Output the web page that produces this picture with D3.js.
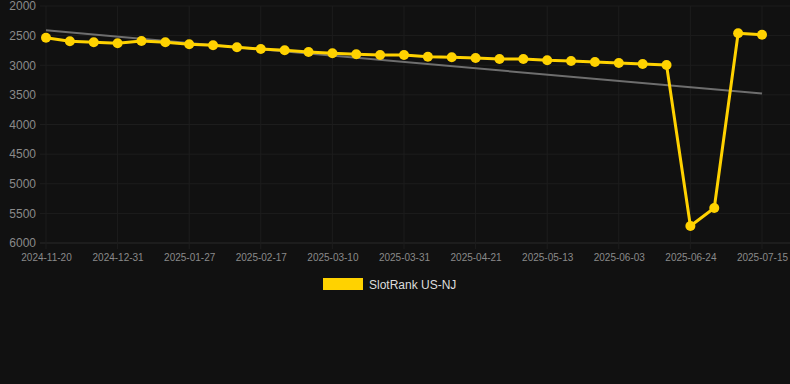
<!DOCTYPE html>
<html>
<head>
<meta charset="utf-8">
<script src="https://cdn.jsdelivr.net/npm/d3@7"></script>
<style>
  html, body { margin: 0; padding: 0; background: #111111; }
  svg { display: block; font-family: "Liberation Sans", Arial, sans-serif; }
</style>
</head>
<body>
<div id="chart"></div>
<script>
// Dates shown on the category axis (every third one is labelled)
const dates = [
  "2024-11-20", "2024-12-03", "2024-12-17", "2024-12-31", "2025-01-08", "2025-01-17",
  "2025-01-27", "2025-02-03", "2025-02-10", "2025-02-17", "2025-02-24", "2025-03-03",
  "2025-03-10", "2025-03-17", "2025-03-24", "2025-03-31", "2025-04-07", "2025-04-14",
  "2025-04-21", "2025-04-28", "2025-05-05", "2025-05-13", "2025-05-20", "2025-05-27",
  "2025-06-03", "2025-06-10", "2025-06-17", "2025-06-24", "2025-07-01", "2025-07-08",
  "2025-07-15"
];

// SlotRank US-NJ rank values
const ranks = [
  2535, 2596, 2613, 2630, 2591, 2613, 2646, 2663, 2697, 2726, 2748, 2776,
  2798, 2815, 2827, 2827, 2856, 2866, 2878, 2895, 2895, 2916, 2928, 2945,
  2962, 2979, 2996, 5713, 5409, 2461, 2484
];

const yTicks = [2000, 2500, 3000, 3500, 4000, 4500, 5000, 5500, 6000];
const seriesName = "SlotRank US-NJ";

const width = 790, height = 384;
const plotLeft = 40, plotRight = 790, plotTop = 6, plotBottom = 243;

const svg = d3.select("#chart")
  .append("svg")
  .attr("width", width)
  .attr("height", height);

svg.append("rect")
  .attr("width", width)
  .attr("height", height)
  .attr("fill", "#111111");

// Scales
const x = d3.scalePoint()
  .domain(dates)
  .range([46, 762]);

const y = d3.scaleLinear()
  .domain([2000, 6000])
  .range([plotTop, plotBottom]);

const labelled = dates.filter((d, i) => i % 3 === 0);

// Grid lines
svg.append("g")
  .selectAll("line")
  .data(yTicks)
  .enter()
  .append("line")
  .attr("x1", plotLeft)
  .attr("x2", plotRight)
  .attr("y1", d => y(d))
  .attr("y2", d => y(d))
  .attr("stroke", d => d === 6000 ? "#2a2a2a" : "#1d1d1d")
  .attr("stroke-width", 1);

svg.append("g")
  .selectAll("line")
  .data(labelled)
  .enter()
  .append("line")
  .attr("x1", d => x(d))
  .attr("x2", d => x(d))
  .attr("y1", plotTop)
  .attr("y2", plotBottom + 6)
  .attr("stroke", "#1d1d1d")
  .attr("stroke-width", 1);

// Y axis labels
const yAxis = svg.append("g")
  .attr("transform", `translate(${plotLeft - 4},0)`)
  .call(d3.axisLeft(y).tickValues(yTicks).tickSize(0).tickPadding(0).tickFormat(d3.format("d")));
yAxis.select(".domain").remove();
yAxis.selectAll("text")
  .attr("fill", "#8a8a8a")
  .style("font-size", "12px");

// X axis labels
const xAxis = svg.append("g")
  .attr("transform", `translate(0,${plotBottom})`)
  .call(d3.axisBottom(x).tickValues(labelled).tickSize(0).tickPadding(11));
xAxis.select(".domain").remove();
xAxis.selectAll("text")
  .attr("fill", "#8a8a8a")
  .style("font-size", "10px");

// Linear trend line (least squares over the category index)
const idx = ranks.map((d, i) => i);
const mx = d3.mean(idx), my = d3.mean(ranks);
const slope = d3.sum(idx, i => (i - mx) * (ranks[i] - my)) / d3.sum(idx, i => (i - mx) * (i - mx));
const intercept = my - slope * mx;
const n = dates.length - 1;

svg.append("line")
  .attr("x1", x(dates[0]))
  .attr("y1", y(intercept))
  .attr("x2", x(dates[n]))
  .attr("y2", y(intercept + slope * n))
  .attr("stroke", "#6e6e6e")
  .attr("stroke-width", 2);

// Series line
const series = dates.map((d, i) => ({ date: d, rank: ranks[i] }));

svg.append("path")
  .datum(series)
  .attr("fill", "none")
  .attr("stroke", "#ffd200")
  .attr("stroke-width", 3)
  .attr("stroke-linejoin", "round")
  .attr("d", d3.line().x(d => x(d.date)).y(d => y(d.rank)));

svg.selectAll(".dot")
  .data(series)
  .enter()
  .append("circle")
  .attr("class", "dot")
  .attr("cx", d => x(d.date))
  .attr("cy", d => y(d.rank))
  .attr("r", 5)
  .attr("fill", "#ffd200");

// Legend
const legend = svg.append("g").attr("transform", "translate(323,278)");
legend.append("rect")
  .attr("width", 40)
  .attr("height", 12)
  .attr("fill", "#ffd200");
legend.append("text")
  .attr("x", 46)
  .attr("y", 10.5)
  .attr("fill", "#dddddd")
  .style("font-size", "12px")
  .text(seriesName);
</script>
</body>
</html>
